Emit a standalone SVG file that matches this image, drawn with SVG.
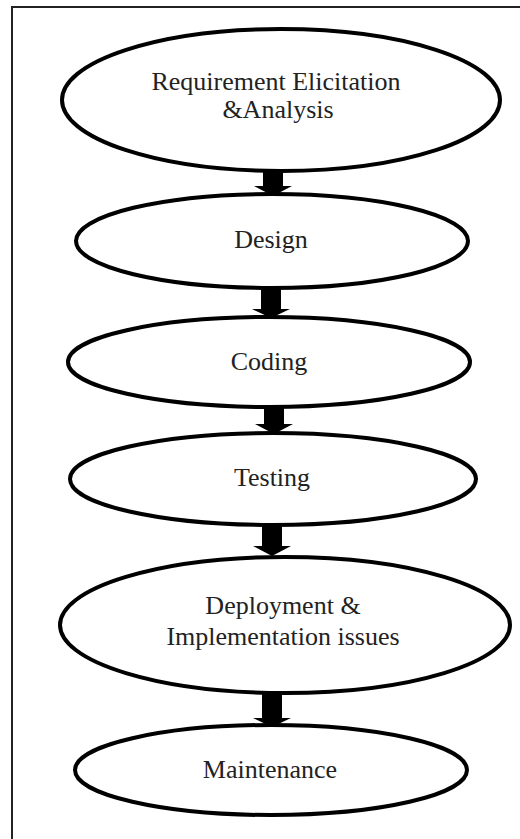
<svg xmlns="http://www.w3.org/2000/svg" width="520" height="839" viewBox="0 0 520 839">
<style>
.node ellipse{fill:#fff;stroke:#000;stroke-width:4}
.node text{font-family:"Liberation Serif","Times New Roman",serif;font-size:26px;fill:#222;text-anchor:middle}
.arrow{fill:#000}
.frame{stroke:#222;stroke-width:2;fill:none}
</style>
<rect width="520" height="839" fill="#fff"/>
<path class="frame" d="M12,839 V7 H520"/>
<g id="n1" class="node"><ellipse cx="281" cy="100" rx="219" ry="71"/><text x="276" y="90">Requirement Elicitation</text><text x="278" y="118">&amp;Analysis</text></g>
<g id="n2" class="node"><ellipse cx="272" cy="241" rx="196" ry="47"/><text x="271" y="248">Design</text></g>
<g id="n3" class="node"><ellipse cx="269" cy="362" rx="201" ry="45"/><text x="269" y="370">Coding</text></g>
<g id="n4" class="node"><ellipse cx="273" cy="479" rx="203" ry="46"/><text x="272" y="486">Testing</text></g>
<g id="n5" class="node"><ellipse cx="285" cy="625" rx="225" ry="68"/><text x="283" y="614">Deployment &amp;</text><text x="283" y="645">Implementation issues</text></g>
<g id="n6" class="node"><ellipse cx="271" cy="770" rx="196" ry="45"/><text x="270" y="778">Maintenance</text></g>
<g id="connectors">
<path class="arrow" d="M263,170 H283 V186 H292 L273,196 L254,186 H263 Z"/>
<path class="arrow" d="M261,287 H281 V309 H290 L271,318 L252,309 H261 Z"/>
<path class="arrow" d="M264,406 H284 V424 H293 L274,434 L255,424 H264 Z"/>
<path class="arrow" d="M262,524 H282 V546 H291 L272,556 L253,546 H262 Z"/>
<path class="arrow" d="M262,692 H282 V718 H291 L272,727 L253,718 H262 Z"/>
</g>
</svg>
